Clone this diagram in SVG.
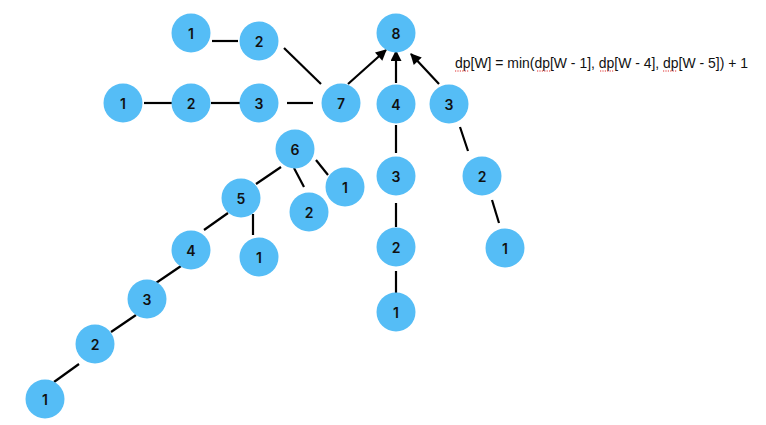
<svg xmlns="http://www.w3.org/2000/svg" width="766" height="425" viewBox="0 0 766 425">
<defs>
<style>
.n circle{fill:#55BDF6}
.n text{font-family:Inter,"Liberation Sans",sans-serif;font-size:14px;font-weight:600;fill:#111;text-anchor:middle;dominant-baseline:central}
.e line{stroke:#000;stroke-width:2.2;stroke-linecap:butt}
.f{font-family:"Liberation Sans",Arial,sans-serif;font-size:14px;fill:#111}
.sq{stroke:#e03030;stroke-width:1.2;stroke-dasharray:1.2 1.2}
</style>
<marker id="ah" viewBox="0 0 10 10" refX="9" refY="5" markerWidth="5.5" markerHeight="5" markerUnits="strokeWidth" orient="auto">
<path d="M0,0 L10,5 L0,10 z" fill="#000"/>
</marker>
</defs>
<rect width="766" height="425" fill="#fff"/>
<g id="connectors" class="e">
<line x1="212" y1="41" x2="238" y2="41"/>
<line x1="284" y1="48" x2="321" y2="84"/>
<line x1="144" y1="103" x2="172" y2="103"/>
<line x1="211" y1="103" x2="240" y2="103"/>
<line x1="287" y1="103" x2="313" y2="103"/>
<line x1="348" y1="84" x2="386" y2="50" marker-end="url(#ah)"/>
<line x1="396" y1="83" x2="396" y2="51" marker-end="url(#ah)"/>
<line x1="439" y1="84" x2="411" y2="54" marker-end="url(#ah)"/>
<line x1="396" y1="125" x2="396" y2="153"/>
<line x1="396" y1="203" x2="396" y2="227"/>
<line x1="396" y1="271" x2="396" y2="294"/>
<line x1="460" y1="127" x2="468" y2="151"/>
<line x1="492" y1="200" x2="499" y2="223"/>
<line x1="281" y1="167" x2="256" y2="184"/>
<line x1="294" y1="168" x2="304" y2="187"/>
<line x1="316" y1="160" x2="328" y2="175"/>
<line x1="253" y1="214" x2="253" y2="235"/>
<line x1="228" y1="213" x2="204" y2="230"/>
<line x1="181" y1="266" x2="156" y2="283"/>
<line x1="136" y1="315" x2="111" y2="332"/>
<line x1="79" y1="364" x2="54" y2="382"/>
</g>
<g id="n1a" class="n"><circle cx="191" cy="33" r="19.5"/><text x="191" y="33">1</text></g>
<g id="n2a" class="n"><circle cx="259" cy="41" r="19.5"/><text x="259" y="41">2</text></g>
<g id="n1b" class="n"><circle cx="123" cy="103" r="19.5"/><text x="123" y="103">1</text></g>
<g id="n2b" class="n"><circle cx="191" cy="103" r="19.5"/><text x="191" y="103">2</text></g>
<g id="n3b" class="n"><circle cx="259" cy="103" r="19.5"/><text x="259" y="103">3</text></g>
<g id="n7" class="n"><circle cx="341" cy="103" r="19.5"/><text x="341" y="103">7</text></g>
<g id="n8" class="n"><circle cx="396" cy="33" r="19.5"/><text x="396" y="33">8</text></g>
<g id="n4c" class="n"><circle cx="396" cy="104" r="19.5"/><text x="396" y="104">4</text></g>
<g id="n3c" class="n"><circle cx="396" cy="176" r="19.5"/><text x="396" y="176">3</text></g>
<g id="n2c" class="n"><circle cx="396" cy="247" r="19.5"/><text x="396" y="247">2</text></g>
<g id="n1c" class="n"><circle cx="396" cy="312" r="19.5"/><text x="396" y="312">1</text></g>
<g id="n3d" class="n"><circle cx="449" cy="104" r="19.5"/><text x="449" y="104">3</text></g>
<g id="n2d" class="n"><circle cx="482" cy="176" r="19.5"/><text x="482" y="176">2</text></g>
<g id="n1d" class="n"><circle cx="505" cy="248" r="19.5"/><text x="505" y="248">1</text></g>
<g id="n6" class="n"><circle cx="295" cy="149" r="19.5"/><text x="295" y="149">6</text></g>
<g id="n1e" class="n"><circle cx="345" cy="187" r="19.5"/><text x="345" y="187">1</text></g>
<g id="n2e" class="n"><circle cx="309" cy="212" r="19.5"/><text x="309" y="212">2</text></g>
<g id="n5" class="n"><circle cx="241" cy="198" r="19.5"/><text x="241" y="198">5</text></g>
<g id="n1f" class="n"><circle cx="259" cy="257" r="19.5"/><text x="259" y="257">1</text></g>
<g id="n4g" class="n"><circle cx="191" cy="250" r="19.5"/><text x="191" y="250">4</text></g>
<g id="n3g" class="n"><circle cx="147" cy="299" r="19.5"/><text x="147" y="299">3</text></g>
<g id="n2g" class="n"><circle cx="95" cy="344" r="19.5"/><text x="95" y="344">2</text></g>
<g id="n1g" class="n"><circle cx="45" cy="399" r="19.5"/><text x="45" y="399">1</text></g>
<g id="formula">
<text class="f" x="455" y="68" textLength="293" lengthAdjust="spacingAndGlyphs">dp[W] = min(dp[W - 1], dp[W - 4], dp[W - 5]) + 1</text>
<line class="sq" x1="455" y1="71" x2="469" y2="71"/>
<line class="sq" x1="537" y1="71" x2="551" y2="71"/>
<line class="sq" x1="600" y1="71" x2="614" y2="71"/>
<line class="sq" x1="663" y1="71" x2="677" y2="71"/>
</g>
</svg>
